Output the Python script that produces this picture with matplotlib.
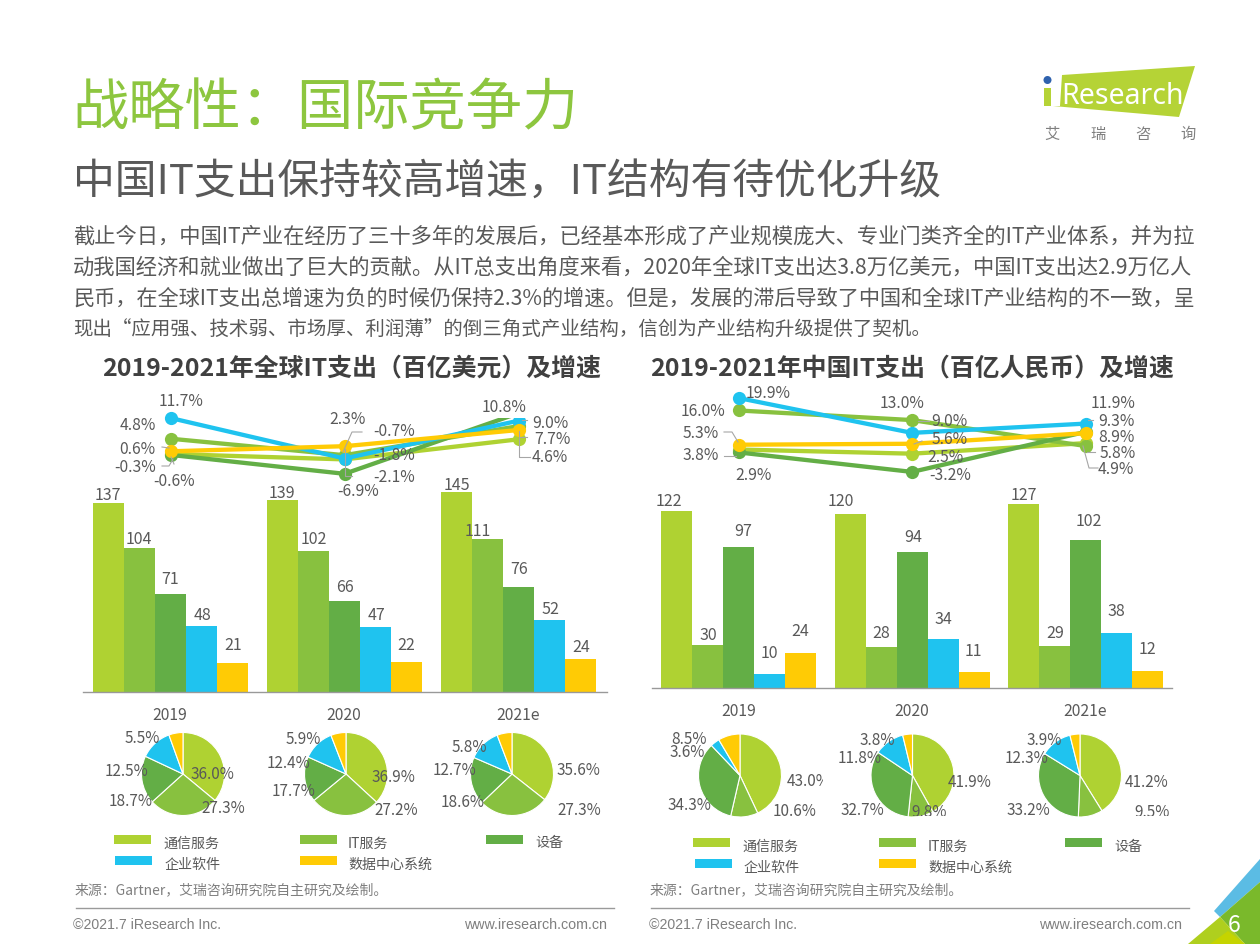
"""iResearch slide: global and China IT spending, growth and structure 2019-2021."""

import matplotlib
matplotlib.use("Agg")
import matplotlib.pyplot as plt
from matplotlib.patches import Polygon, Rectangle, Circle

plt.rcParams["font.family"] = ["Noto Sans CJK SC", "DejaVu Sans"]

W, H = 1260, 945

# ---------------------------------------------------------------------------
#  data
# ---------------------------------------------------------------------------

YEARS = ["2019", "2020", "2021e"]
SEGMENTS = ["通信服务", "IT服务", "设备", "企业软件", "数据中心系统"]
COLORS = ["#AFD232", "#88C13F", "#63AE46", "#1FC3EF", "#FFCB05"]

# spending, one list per segment
GLOBAL_TELECOM = [137, 139, 145]
GLOBAL_ITSERV = [104, 102, 111]
GLOBAL_DEVICE = [71, 66, 76]
GLOBAL_SOFT = [48, 47, 52]
GLOBAL_DC = [21, 22, 24]

CHINA_TELECOM = [122, 120, 127]
CHINA_ITSERV = [30, 28, 29]
CHINA_DEVICE = [97, 94, 102]
CHINA_SOFT = [10, 34, 38]
CHINA_DC = [24, 11, 12]

# growth in %, the 2021 device point of the global chart has no readable
# label (it sits behind "10.8%"), so it is estimated from the line slope
GLOBAL_G_TELECOM = [-0.3, -2.1, 4.6]
GLOBAL_G_ITSERV = [4.8, -0.7, 9.0]
GLOBAL_G_DEVICE = [-0.6, -6.9, 13.3]
GLOBAL_G_SOFT = [11.7, -1.8, 10.8]
GLOBAL_G_DC = [0.6, 2.3, 7.7]

CHINA_G_TELECOM = [3.8, 2.5, 5.8]
CHINA_G_ITSERV = [16.0, 13.0, 4.9]
CHINA_G_DEVICE = [2.9, -3.2, 9.3]
CHINA_G_SOFT = [19.9, 9.0, 11.9]
CHINA_G_DC = [5.3, 5.6, 8.9]

# shares in %, one list per year
GLOBAL_SHARE_2019 = [36.0, 27.3, 18.7, 12.5, 5.5]
GLOBAL_SHARE_2020 = [36.9, 27.2, 17.7, 12.4, 5.9]
GLOBAL_SHARE_2021 = [35.6, 27.3, 18.6, 12.7, 5.8]

CHINA_SHARE_2019 = [43.0, 10.6, 34.3, 3.6, 8.5]
CHINA_SHARE_2020 = [41.9, 9.8, 32.7, 11.8, 3.8]
CHINA_SHARE_2021 = [41.2, 9.5, 33.2, 12.3, 3.9]

BODY = [
    "截止今日，中国IT产业在经历了三十多年的发展后，已经基本形成了产业规模庞大、专业门类齐全的IT产业体系，并为拉",
    "动我国经济和就业做出了巨大的贡献。从IT总支出角度来看，2020年全球IT支出达3.8万亿美元，中国IT支出达2.9万亿人",
    "民币，在全球IT支出总增速为负的时候仍保持2.3%的增速。但是，发展的滞后导致了中国和全球IT产业结构的不一致，呈",
    "现出“应用强、技术弱、市场厚、利润薄”的倒三角式产业结构，信创为产业结构升级提供了契机。",
]

# ---------------------------------------------------------------------------
#  layout, all in reference pixels
# ---------------------------------------------------------------------------

TEXT = "#595959"
LEADER = "#a6a6a6"

GLOBAL_BAR_XY = [(108, 495), (139, 539), (170, 579), (202, 615), (233, 645),
                 (282, 493), (314, 539), (345, 587), (376, 615), (406, 645),
                 (457, 485), (478, 531), (519, 569), (550, 610), (581, 648)]
CHINA_BAR_XY = [(669, 501), (708, 635), (743, 532), (769, 653), (800, 632),
                (841, 502), (881, 634), (913, 537), (943, 619), (973, 651),
                (1024, 496), (1055, 634), (1089, 521), (1116, 612), (1147, 650)]

GLOBAL_G_LABELS = [("11.7%", 181, 401), ("4.8%", 138, 425), ("0.6%", 137, 450),
                   ("-0.3%", 135, 467), ("-0.6%", 174, 481), ("2.3%", 348, 420),
                   ("-0.7%", 394, 432), ("-1.8%", 394, 455), ("-2.1%", 394, 477),
                   ("-6.9%", 358, 491), ("9.0%", 550, 423), ("7.7%", 552, 439),
                   ("4.6%", 550, 458)]
CHINA_G_LABELS = [("19.9%", 768, 394), ("16.0%", 703, 411), ("5.3%", 701, 434),
                  ("3.8%", 701, 456), ("2.9%", 753, 475), ("13.0%", 902, 403),
                  ("9.0%", 949, 422), ("5.6%", 950, 440), ("2.5%", 945, 457),
                  ("-3.2%", 950, 475), ("11.9%", 1113, 404), ("9.3%", 1116, 422),
                  ("8.9%", 1116, 438), ("5.8%", 1118, 454), ("4.9%", 1116, 469)]

LEADERS = [[(162, 448), (169, 449)], [(162, 467), (169, 467), (173, 460)],
           [(171, 458), (174, 465)],
           [(362, 433), (352, 433), (343, 453)], [(345, 450), (345, 477), (352, 477)],
           [(527, 421), (522, 421)], [(527, 438), (520, 438)],
           [(519, 432), (519, 458), (530, 458)],
           [(724, 433), (732, 433), (738, 443)], [(724, 457), (736, 457)],
           [(918, 422), (929, 422)], [(922, 442), (914, 445)],
           [(1093, 421), (1088, 421)], [(1095, 453), (1087, 453)],
           [(1098, 469), (1089, 469), (1083, 447)]]

# text centres of the pie labels, in segment order
GLOBAL_PIE_XY = [[(212, 775), (223, 809), (131, 802), (127, 772), (142, 739)],
                 [(393, 778), (396, 811), (294, 792), (288, 764), (303, 740)],
                 [(578, 771), (579, 811), (463, 803), (454, 771), (469, 748)]]
CHINA_PIE_XY = [[(809, 782), (795, 812), (689, 806), (687, 753), (689, 740)],
                [(970, 783), (929, 813), (862, 811), (860, 759), (877, 741)],
                [(1147, 783), (1152, 813), (1028, 811), (1027, 759), (1044, 741)]]


fig = plt.figure(figsize=(W / 100, H / 100), dpi=100, facecolor="white")


def px_axes(x0, y0, x1, y1, **kw):
    """Axes from a pixel box, y counted from the top as in the reference."""
    return fig.add_axes([x0 / W, 1 - y1 / H, (x1 - x0) / W, (y1 - y0) / H], **kw)


def draw_bars(series, x0, x1, first_center, step, base, top, px_per_unit):
    ax = px_axes(x0, top, x1, base)
    bw = 31 / step
    for i, (vals, c) in enumerate(zip(series, COLORS)):
        ax.bar([k + (i - 2) * bw for k in range(3)], vals, width=bw, color=c, lw=0)
    ax.set_xlim((x0 - first_center) / step, (x1 - first_center) / step)
    ax.set_ylim(0, (base - top) / px_per_unit)
    for s in ["top", "left", "right"]:
        ax.spines[s].set_visible(False)
    ax.spines["bottom"].set_color("#999999")
    ax.spines["bottom"].set_linewidth(1.0)
    ax.set_xticks([]); ax.set_yticks([])
    ax.patch.set_alpha(0)


def draw_lines(series, x0, x1, first_center, step, top, bottom, y_ref, v_ref, px_per_unit):
    ax = px_axes(x0, top, x1, bottom)
    for vals, c in zip(series, COLORS):
        ax.plot(range(3), vals, color=c, lw=3.1, marker="o", ms=9.5, mew=0,
                solid_capstyle="round", clip_on=False)
    ax.set_xlim((x0 - first_center) / step, (x1 - first_center) / step)
    ax.set_ylim(v_ref - (bottom - y_ref) / px_per_unit, v_ref + (y_ref - top) / px_per_unit)
    ax.axis("off")


def draw_pie(shares, label_xy, cx, cy, box):
    """box = (x0, y0, x1, y1): the picture window, labels and wedges clip to it."""
    x0, y0, x1, y1 = box
    ax = px_axes(x0, y0, x1, y1)
    ax.pie(shares, colors=COLORS, startangle=90, counterclock=False, radius=41.5,
           wedgeprops=dict(edgecolor="white", linewidth=0.8))
    ax.set_aspect("auto")
    ax.set_xlim(x0 - cx, x1 - cx)
    ax.set_ylim(cy - y1, cy - y0)
    for v, (lx, ly) in zip(shares, label_xy):
        ax.text(lx - cx, cy - ly, f"{v:.1f}%", ha="center", va="center", fontsize=11,
                color=TEXT, clip_on=True)


# ---- bars and growth lines ----
draw_bars([GLOBAL_TELECOM, GLOBAL_ITSERV, GLOBAL_DEVICE, GLOBAL_SOFT, GLOBAL_DC],
          83, 607, 170.5, 174, 693, 480, 1.38)
draw_bars([CHINA_TELECOM, CHINA_ITSERV, CHINA_DEVICE, CHINA_SOFT, CHINA_DC],
          652, 1172, 738.5, 173.5, 689, 490, 1.45)
draw_lines([GLOBAL_G_TELECOM, GLOBAL_G_ITSERV, GLOBAL_G_DEVICE, GLOBAL_G_SOFT, GLOBAL_G_DC],
           81, 607, 170.5, 174, 395, 490, 419, 11.7, 3.0)
draw_lines([CHINA_G_TELECOM, CHINA_G_ITSERV, CHINA_G_DEVICE, CHINA_G_SOFT, CHINA_G_DC],
           650, 1172, 738.5, 173.5, 385, 490, 399, 19.9, 3.2)

# ---- pies ----
for shares, xy, cx in zip([GLOBAL_SHARE_2019, GLOBAL_SHARE_2020, GLOBAL_SHARE_2021],
                          GLOBAL_PIE_XY, [183, 346, 512]):
    draw_pie(shares, xy, cx, 775, (cx - 95, 725, cx + 95, 825))
for shares, xy, cx, box in zip([CHINA_SHARE_2019, CHINA_SHARE_2020, CHINA_SHARE_2021],
                               CHINA_PIE_XY, [740, 912.5, 1080],
                               [(660, 725, 823, 817), (835, 725, 995, 817),
                                (1005, 725, 1175, 817)]):
    draw_pie(shares, xy, cx, 776.5, box)

# ---- everything else on a pixel overlay ----
ov = px_axes(0, 0, W, H, zorder=10)
ov.set_xlim(0, W); ov.set_ylim(H, 0); ov.axis("off")


def label(x, y, s, size=10.5, color=TEXT, ha="center", **kw):
    return ov.text(x, y, s, fontsize=size, color=color, ha=ha, va="center", **kw)


ov.text(72, 110, "战略性：国际竞争力", fontsize=40.5, color="#8DC63F", va="center", weight="light")
ov.text(73, 182, "中国IT支出保持较高增速，IT结构有待优化升级", fontsize=30.1, color=TEXT,
        va="center", weight="light")

# body text: the reference is justified, so the full lines are fitted to the column
renderer = fig.canvas.get_renderer()
for line, y in zip(BODY, [237, 268, 299, 330]):
    t = ov.text(73, y, line, fontsize=14, color=TEXT, va="center")
    if y < 320:
        t.set_fontsize(14 * 1126 / t.get_window_extent(renderer).width)

for x, s in [(352, "2019-2021年全球IT支出（百亿美元）及增速"),
             (912, "2019-2021年中国IT支出（百亿人民币）及增速")]:
    label(x, 369, s, size=17.9, color="#404040", weight="bold")

for (x, y), v in zip(GLOBAL_BAR_XY, [GLOBAL_TELECOM[0], GLOBAL_ITSERV[0], GLOBAL_DEVICE[0], GLOBAL_SOFT[0], GLOBAL_DC[0],
                                     GLOBAL_TELECOM[1], GLOBAL_ITSERV[1], GLOBAL_DEVICE[1], GLOBAL_SOFT[1], GLOBAL_DC[1],
                                     GLOBAL_TELECOM[2], GLOBAL_ITSERV[2], GLOBAL_DEVICE[2], GLOBAL_SOFT[2], GLOBAL_DC[2]]):
    label(x, y, str(v), size=11.5)
for (x, y), v in zip(CHINA_BAR_XY, [CHINA_TELECOM[0], CHINA_ITSERV[0], CHINA_DEVICE[0], CHINA_SOFT[0], CHINA_DC[0],
                                    CHINA_TELECOM[1], CHINA_ITSERV[1], CHINA_DEVICE[1], CHINA_SOFT[1], CHINA_DC[1],
                                    CHINA_TELECOM[2], CHINA_ITSERV[2], CHINA_DEVICE[2], CHINA_SOFT[2], CHINA_DC[2]]):
    label(x, y, str(v), size=11.5)

for pts in LEADERS:
    ov.plot(*zip(*pts), color=LEADER, lw=0.8)
for s, x, y in GLOBAL_G_LABELS + CHINA_G_LABELS:
    label(x, y, s, size=11.3)
# this one hides the end of the device line
label(504, 408, "10.8%", size=11.3, bbox=dict(fc="white", ec="none", pad=1.5))

for x, y, s in zip([170, 344, 518, 739, 912, 1085], [716] * 3 + [712] * 3, YEARS * 2):
    label(x, y, s, size=11.3)

# ---- legends ----
for rows, swatch_h in [([(114, 836, 163, 0), (300, 836, 348, 1), (486, 836, 535, 2),
                         (115, 857, 165, 3), (300, 857, 348, 4)], 9),
                       ([(693, 839, 742, 0), (879, 839, 928, 1), (1065, 839, 1114, 2),
                         (695, 860, 744, 3), (879, 860, 928, 4)], 9)]:
    for sx, sy, tx, i in rows:
        ov.add_patch(Rectangle((sx, sy), 37, swatch_h, fc=COLORS[i], lw=0))
        label(tx, sy + 7.5, SEGMENTS[i], size=10.1, ha="left")

# ---- source and footer ----
for x in [75, 650]:
    label(x, 890, "来源：Gartner，艾瑞咨询研究院自主研究及绘制。", size=10, color="#7f7f7f", ha="left")
for x0, x1 in [(76, 614), (651, 1189)]:
    ov.plot([x0, x1], [909, 909], color="#9a9a9a", lw=1)
for x, x_end in [(73, 607), (649, 1182)]:
    label(x, 925, "©2021.7 iResearch Inc.", size=10.2, color="#7f7f7f", ha="left", family="Liberation Sans")
    label(x_end, 925, "www.iresearch.com.cn", size=10.3, color="#7f7f7f", ha="right", family="Liberation Sans")

# ---- logo ----
ov.add_patch(Polygon([(1062, 76), (1195, 67), (1179, 118), (1053, 107), (1060, 107)], fc="#B5D336", lw=0))
ov.add_patch(Polygon([(1044, 89), (1051, 89), (1051, 107), (1044, 107)], fc="#B5D336", lw=0))
ov.add_patch(Circle((1047.5, 81), 4, fc="#2F62AE", lw=0))
label(1061, 96, "Research", size=20.5, color="white", ha="left", family="Noto Sans", weight="light")
for x, s in zip([1052, 1098, 1143, 1188], "艾瑞咨询"):
    label(x, 134, s, size=11, color="#7f7f7f")

# ---- page corner ----
ov.add_patch(Polygon([(1214, 912), (1260, 860), (1260, 883), (1220, 918)], fc="#5BBCE4", lw=0))
ov.add_patch(Polygon([(1220, 918), (1260, 883), (1260, 945), (1245, 945)], fc="#7AB92B", lw=0))
ov.add_patch(Polygon([(1188, 945), (1220, 918), (1245, 945)], fc="#AFCF1E", lw=0))
ov.add_patch(Polygon([(1210, 945), (1228, 932), (1245, 945)], fc="#C5D400", lw=0))
label(1234, 926, "6", size=16.5, color="white")

fig.savefig("out.png", dpi=100)
